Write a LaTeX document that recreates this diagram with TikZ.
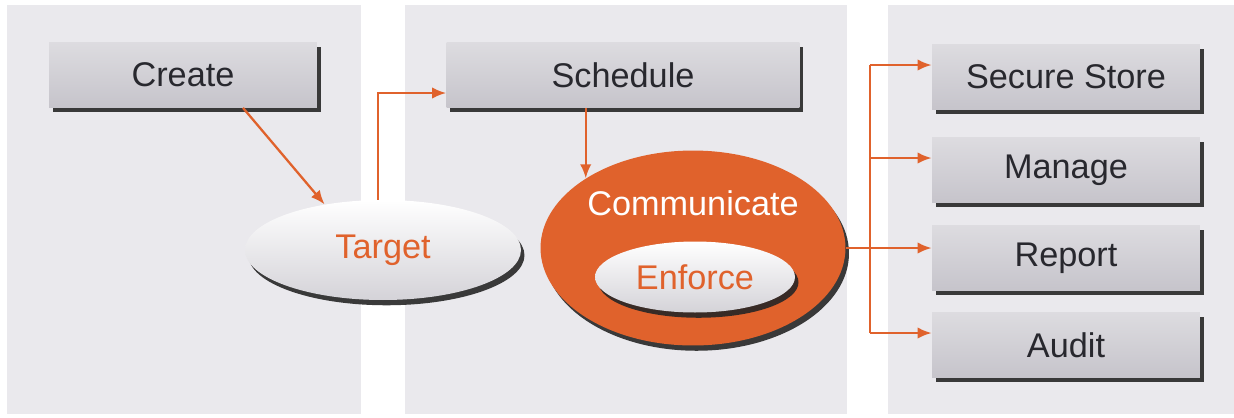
\documentclass[tikz,border=0pt]{standalone}
\usepackage{fontspec}
\setmainfont{Liberation Sans}
\usetikzlibrary{arrows,arrows.meta,shapes.geometric,shadows}

\definecolor{accent}{RGB}{224,98,44}
\definecolor{panelgray}{RGB}{234,233,237}
\definecolor{boxgray}{RGB}{198,196,203}
\definecolor{ink}{RGB}{40,40,46}

\begin{document}
\begin{tikzpicture}[x=0.02cm,y=-0.02cm]

\tikzset{panel/.style = {fill=panelgray,draw=none}}
\tikzset{box/.style = {shape=rectangle,top color=boxgray!60,bottom color=boxgray,
  minimum width=5.36cm,minimum height=1.3cm,inner sep=0pt,text=ink,
  font=\fontsize{19.5}{23}\selectfont,
  drop shadow={shadow xshift=2.2pt,shadow yshift=-2.6pt,fill=black!85,opacity=.9}}}
\tikzset{ring/.style = {shape=ellipse,inner sep=0pt,font=\fontsize{19.5}{23}\selectfont,
  drop shadow={shadow xshift=2pt,shadow yshift=-3pt,fill=black!85,opacity=.9}}}
\tikzset{oval/.style = {ring,top color=white,bottom color=boxgray!75,text=accent}}
\tikzset{edge/.style = {->,> = {Latex[length=8pt,width=6.5pt]},accent,line width=1.3pt}}
% panels
\useasboundingbox (0,0) rectangle (1234,417);
\fill[white] (0,0) rectangle (1234,417);
\fill[panel] (7,5) rectangle (361,414);
\fill[panel] (405,5) rectangle (847,414);
\fill[panel] (888,5) rectangle (1234,414);
% boxes
\node[box] (create) at (183,75) {Create};
\node[box,minimum width=7.06cm] (schedule) at (623,75) {Schedule};
\node[box] (secure) at (1066,77) {Secure Store};
\node[box] (manage) at (1066,170) {Manage};
\node[box] (report) at (1066,258) {Report};
\node[box] (audit) at (1066,345) {Audit};
% ovals
\node[oval,minimum width=5.52cm,minimum height=2.0cm] (target) at (383,250) {Target};
\node[ring,fill=accent,minimum width=6.1cm,minimum height=3.9cm,
  label={[white,font=\fontsize{19.5}{23}\selectfont,yshift=0.9cm]center:Communicate}]
  (comm) at (693,248) {};
\node[oval,minimum width=4.0cm,minimum height=1.42cm] (enforce) at (695,277) {Enforce};
% edges
\coordinate (bus) at (870,0);
\draw[edge] ([xshift=1.2cm]create.south) -- (target.142);
\draw[edge] ([xshift=-0.1cm]target.north) |- ([yshift=-0.36cm]schedule.west);
\draw[edge] (schedule.south -| comm.147) -- (comm.147);
\draw[edge] (comm.east) -- (comm.east -| report.west);
\draw[accent,line width=1.3pt] ([yshift=0.24cm]secure.west -| bus) -- ([yshift=0.24cm]audit.west -| bus);
\foreach \b in {secure,manage,audit}
  \draw[edge] ([yshift=0.24cm]\b.west -| bus) -- ([yshift=0.24cm]\b.west);
\end{tikzpicture}
\end{document}
